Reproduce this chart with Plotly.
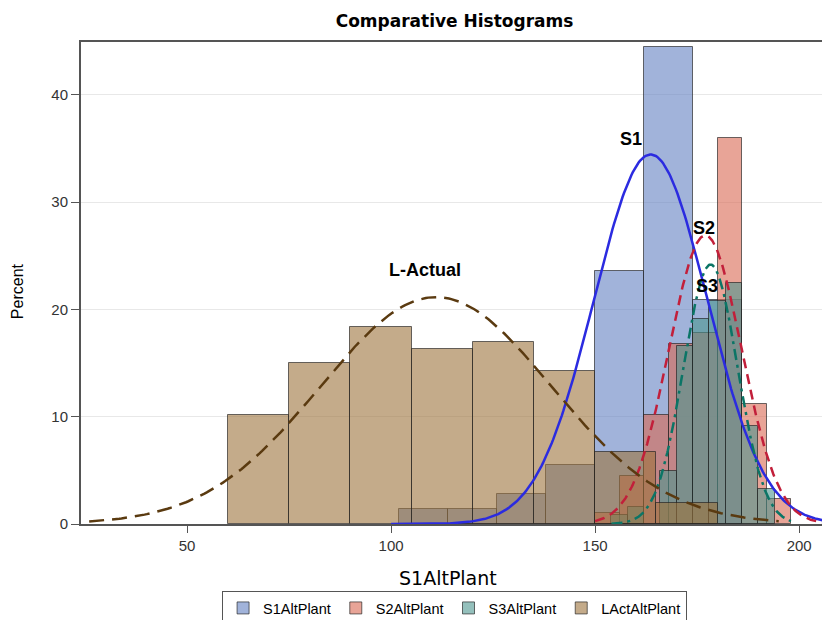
import numpy as np
import plotly.graph_objects as go

# ---- histogram data (percent per bin) ----
s1_left = [102, 114, 126, 138, 150, 162, 174]
s1_pct = [1.37, 1.37, 2.8, 5.5, 23.6, 44.5, 20.9]
s1_width = 12

s2_left = [150, 156, 162, 168, 174, 180, 186, 192]
s2_pct = [1.05, 4.5, 10.2, 16.8, 17.8, 36.0, 11.2, 2.3]
s2_width = 6

s3_left = [154, 158, 166, 170, 174, 178, 182, 186, 190]
s3_pct = [0.85, 1.6, 4.9, 16.6, 19.1, 20.8, 22.5, 9.1, 3.3]
s3_width = 4

lact_left = [60, 75, 90, 105, 120, 135, 150, 165]
lact_pct = [10.2, 15.0, 18.4, 16.3, 17.0, 14.3, 6.7, 2.0]
lact_width = 15

# ---- fitted normal density parameters: mean, std dev, curve extent ----
s1_mean, s1_sd, s1_span = 163.6, 13.9, (100, 206)
s2_mean, s2_sd, s2_span = 177.0, 8.9, (150, 206)
s3_mean, s3_sd, s3_span = 178.3, 6.6, (154, 198)
lact_mean, lact_sd, lact_span = 111.0, 28.3, (26, 195)

names = ["S1AltPlant", "S2AltPlant", "S3AltPlant", "LActAltPlant"]
labels = ["S1", "S2", "S3", "L-Actual"]
label_pos = [(158.7, 35.9), (176.8, 27.6), (177.5, 22.2), (108.2, 23.7)]

fills = ["rgba(98,128,193,0.6)", "rgba(217,103,82,0.6)",
         "rgba(77,150,143,0.6)", "rgba(157,115,60,0.6)"]
lines = ["#2b2be0", "#c21f3a", "#0b7566", "#5a3a10"]
dashes = ["solid", "10px,6px", "11px,5px,3px,5px", "15px,8px"]

FONT = "Liberation Sans, Arial, sans-serif"
TITLE_FONT = "DejaVu Sans, sans-serif"

series = [
    (s1_left, s1_pct, s1_width, s1_mean, s1_sd, s1_span),
    (s2_left, s2_pct, s2_width, s2_mean, s2_sd, s2_span),
    (s3_left, s3_pct, s3_width, s3_mean, s3_sd, s3_span),
    (lact_left, lact_pct, lact_width, lact_mean, lact_sd, lact_span),
]

fig = go.Figure()
for i, (left, pct, w, mu, sd, span) in enumerate(series):
    centers = [e + w / 2 for e in left]
    fig.add_trace(go.Bar(
        x=centers, y=pct, width=w, name=names[i],
        marker=dict(color=fills[i],
                    line=dict(color="rgba(30,30,30,0.65)", width=1)),
        hoverinfo="x+y",
    ))
    # normal density scaled to percent of observations per bin
    xs = np.linspace(span[0], span[1], 300)
    ys = 100 * w * np.exp(-0.5 * ((xs - mu) / sd) ** 2) / (sd * np.sqrt(2 * np.pi))
    fig.add_trace(go.Scatter(
        x=xs, y=ys, mode="lines", showlegend=False, hoverinfo="skip",
        line=dict(color=lines[i], width=2.5, dash=dashes[i]),
    ))

for text, (lx, ly) in zip(labels, label_pos):
    fig.add_annotation(x=lx, y=ly, text=f"<b>{text}</b>", showarrow=False,
                       font=dict(family=FONT, size=18, color="black"),
                       xanchor="center", yanchor="middle")

fig.add_annotation(xref="paper", yref="paper", x=0.495, y=-0.112,
                   text="S1AltPlant", showarrow=False,
                   font=dict(family=TITLE_FONT, size=19, color="black"),
                   xanchor="center", yanchor="middle")
fig.add_annotation(xref="paper", yref="paper", x=-0.0864, y=0.483,
                   text="Percent", showarrow=False, textangle=-90,
                   font=dict(family=FONT, size=16, color="black"),
                   xanchor="center", yanchor="middle")

fig.update_layout(
    width=822, height=620,
    margin=dict(l=81, r=0, t=42, b=96, autoexpand=False),
    paper_bgcolor="white", plot_bgcolor="white",
    barmode="overlay", bargap=0,
    title=dict(text="<b>Comparative Histograms</b>", x=0.553, xanchor="center",
               y=1 - 21 / 620, yanchor="middle",
               font=dict(family=TITLE_FONT, size=17, color="black")),
    font=dict(family=FONT, size=15, color="#333"),
    legend=dict(orientation="h", xref="container", x=0.553, xanchor="center",
                yref="container", y=1 - 608 / 620, yanchor="middle",
                bordercolor="#555", borderwidth=1,
                itemwidth=30, tracegroupgap=0,
                font=dict(family=FONT, size=14.5, color="black"),
                itemclick=False),
    xaxis=dict(range=[24, 205.6], tickvals=[50, 100, 150, 200],
               showgrid=False, zeroline=False, showline=True,
               linecolor="#555", linewidth=2, mirror=True,
               ticks="outside", ticklen=7, tickcolor="#555",
               tickfont=dict(family=FONT, size=15, color="#333")),
    yaxis=dict(range=[0, 44.92], tickvals=[0, 10, 20, 30, 40],
               showgrid=True, gridcolor="#e8e8e8", gridwidth=1,
               zeroline=False, showline=True,
               linecolor="#555", linewidth=2, mirror=True,
               ticks="outside", ticklen=8, tickcolor="#555",
               tickfont=dict(family=FONT, size=15, color="#333")),
)

fig.write_html("out.html")
